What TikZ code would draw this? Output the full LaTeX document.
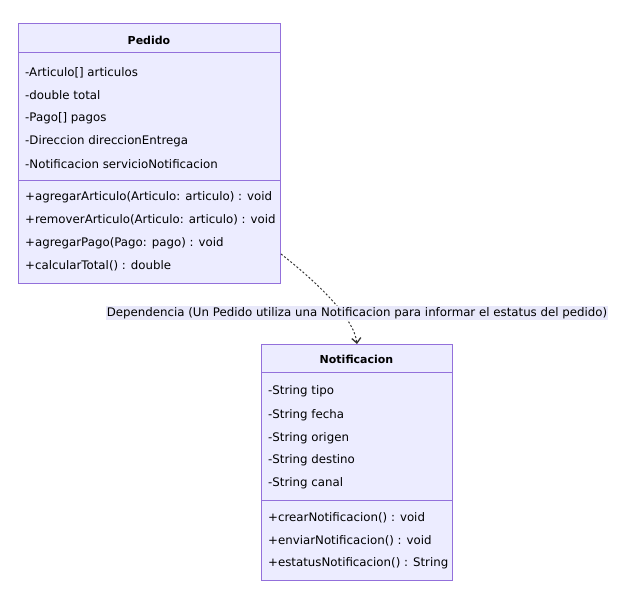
\documentclass[tikz,border=0pt]{standalone}
\usepackage{fontspec}
\setmainfont{DejaVu Sans}
\usetikzlibrary{arrows.meta,calc}
\definecolor{boxfill}{HTML}{ECECFF}
\definecolor{boxline}{HTML}{9370DB}
\definecolor{lblbg}{HTML}{E8E8FA}
\definecolor{edgec}{HTML}{333333}
\begin{document}
\begin{tikzpicture}[x=1pt,y=-1pt,
  classbox/.style={draw=boxline, fill=boxfill, line width=1pt, anchor=north west, inner sep=0pt},
  divider/.style={draw=boxline, line width=1pt},
  member/.style={anchor=west, inner sep=0pt, font=\fontsize{11.8}{13}\selectfont, text=black},
  title/.style={inner sep=0pt, font=\fontsize{11}{13}\selectfont\bfseries, text=black},
  dep/.style={draw=edgec, line width=1pt, dash pattern=on 2pt off 2pt, -{Straight Barb[length=5pt,width=9pt,line width=1.3pt]}},
  lbl/.style={fill=lblbg, inner xsep=1pt, inner ysep=0pt, minimum height=14pt, font=\fontsize{11.8}{13}\selectfont, text=black}]
\useasboundingbox (0,0) rectangle (624,601);
\fill[white] (0,0) rectangle (624,601);
% Pedido
\node[classbox, minimum width=262pt, minimum height=260pt] (pedido) at (18,23) {};
\draw[divider] (18,53) -- (280,53);
\draw[divider] (18,181) -- (280,181);
\node[title] (pt) at (149,40) {Pedido};
\node[member] (pa1) at (25,72.3) {-Articulo[] articulos};
\node[member] (pa2) at (25,95) {-double total};
\node[member] (pa3) at (25,118.3) {-Pago[] pagos};
\node[member] (pa4) at (25,141.7) {-Direccion direccionEntrega};
\node[member] (pa5) at (25,164.3) {-Notificacion servicioNotificacion};
\node[member] (pm1) at (25,197.7) {+agregarArticulo(Articulo: articulo) : void};
\node[member] (pm2) at (25,219.5) {+removerArticulo(Articulo: articulo) : void};
\node[member] (pm3) at (25,243.7) {+agregarPago(Pago: pago) : void};
\node[member] (pm4) at (25,265.5) {+calcularTotal() : double};
% Notificacion
\node[classbox, minimum width=191pt, minimum height=236pt] (notif) at (261,344) {};
\draw[divider] (261,373) -- (452,373);
\draw[divider] (261,500) -- (452,500);
\node[title] (nt) at (356.5,359) {Notificacion};
\node[member] (na1) at (268,391.7) {-String tipo};
\node[member] (na2) at (268,415) {-String fecha};
\node[member] (na3) at (268,438.3) {-String origen};
\node[member] (na4) at (268,460.7) {-String destino};
\node[member] (na5) at (268,483) {-String canal};
\node[member] (nm1) at (268,517.7) {+crearNotificacion() : void};
\node[member] (nm2) at (268,540.3) {+enviarNotificacion() : void};
\node[member] (nm3) at (268,563.7) {+estatusNotificacion() : String};
% Dependency
\coordinate (src) at ($(pedido.north east)+(0,231)$);
\draw[dep] (src) .. controls (318,283) and (354,318) .. (notif.north);
\node[lbl] (deplabel) at (357,313.5) {Dependencia (Un Pedido utiliza una Notificacion para informar el estatus del pedido)};
\end{tikzpicture}
\end{document}
